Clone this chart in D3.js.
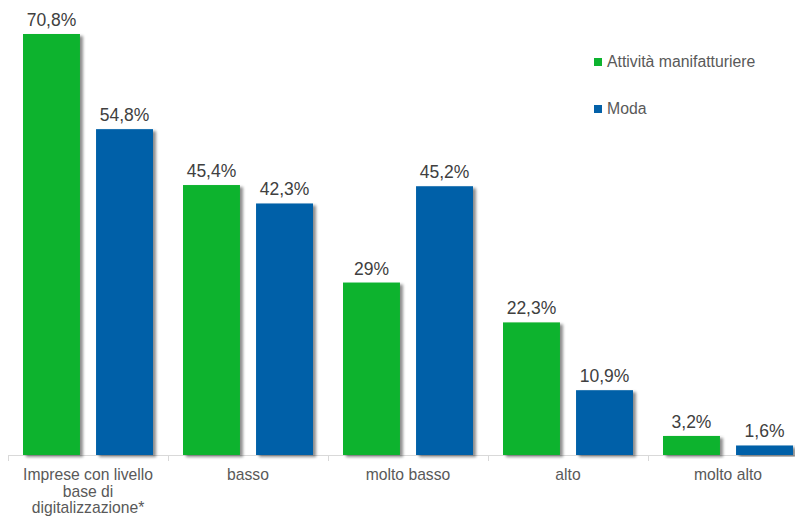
<!DOCTYPE html>
<html><head><meta charset="utf-8">
<script src="https://cdn.jsdelivr.net/npm/d3@7"></script>
<style>body{margin:0;background:#fff}svg{display:block;font-family:"Liberation Sans",Arial,sans-serif}</style>
</head><body><svg id="c" width="795" height="520"></svg>
<script>
const categories = [["Imprese con livello","base di","digitalizzazione*"],["basso"],["molto basso"],["alto"],["molto alto"]];
const seriesNames = ["Attività manifatturiere","Moda"];
const manifatturiere = [70.8,45.4,29,22.3,3.2];
const moda = [54.8,42.3,45.2,10.9,1.6];
const labelsM = ["70,8%","45,4%","29%","22,3%","3,2%"];
const labelsMo = ["54,8%","42,3%","45,2%","10,9%","1,6%"];
const colors = ["#0db32f","#0461a8"];

const svg = d3.select("#c");
const defs = svg.append("defs");
const f = defs.append("filter").attr("id","sh").attr("x","-10%").attr("y","-10%").attr("width","130%").attr("height","130%");
f.append("feGaussianBlur").attr("in","SourceAlpha").attr("stdDeviation",1.5);
f.append("feOffset").attr("dx",2.5).attr("dy",1.5).attr("result","b");
f.append("feComponentTransfer").append("feFuncA").attr("type","linear").attr("slope",0.45);
const m = f.append("feMerge"); m.append("feMergeNode"); m.append("feMergeNode").attr("in","SourceGraphic");

const idx = d3.range(categories.length);
const x0 = d3.scaleBand().domain(idx).range([8,808]).paddingInner(0).paddingOuter(0);
const x1 = d3.scaleBand().domain([0,1]).range([15,145]).paddingInner(0.22).paddingOuter(0);
const y = d3.scaleLinear().domain([0,70.8]).range([455,34]);

// axis
const ax = svg.append("g").attr("transform","translate(0,455)")
  .call(d3.axisBottom(x0).tickSize(0).tickFormat(""));
ax.select(".domain").attr("stroke","#d9d9d9");
const bounds = d3.range(categories.length+1).map(i=> i<categories.length ? x0(i) : x0(i-1)+x0.bandwidth());
svg.selectAll("line.tk").data(bounds).join("line").attr("class","tk")
  .attr("x1",d=>d+0.5).attr("x2",d=>d+0.5).attr("y1",455).attr("y2",461).attr("stroke","#d9d9d9");

const series = [manifatturiere, moda];
const labels = [labelsM, labelsMo];
series.forEach((vals,s)=>{
  const g = svg.append("g");
  g.selectAll("rect").data(vals).join("rect")
    .attr("x",(d,i)=>x0(i)+x1(s)).attr("width",x1.bandwidth())
    .attr("y",d=>y(d)).attr("height",d=>y(0)-y(d))
    .attr("fill",colors[s]).attr("filter","url(#sh)");
  g.selectAll("text").data(vals).join("text")
    .attr("x",(d,i)=>x0(i)+x1(s)+x1.bandwidth()/2).attr("y",d=>y(d)-8)
    .attr("text-anchor","middle").attr("font-size",17.5).attr("fill","#404040")
    .text((d,i)=>labels[s][i]);
});

// category labels
const cl = svg.append("g");
categories.forEach((lines,i)=>{
  const t = cl.append("text").attr("x",x0(i)+x0.bandwidth()/2).attr("y",480)
    .attr("text-anchor","middle").attr("font-size",15.7).attr("fill","#595959");
  lines.forEach((ln,j)=>t.append("tspan").attr("x",x0(i)+x0.bandwidth()/2).attr("dy",j?16.5:0).text(ln));
});

// legend
const lg = svg.append("g");
seriesNames.forEach((n,i)=>{
  const yy = 62 + i*47;
  lg.append("rect").attr("x",594).attr("y",yy-4).attr("width",8).attr("height",8).attr("fill",colors[i]);
  lg.append("text").attr("x",607).attr("y",yy+5).attr("font-size",15.8).attr("fill","#595959").text(n);
});
</script></body></html>
